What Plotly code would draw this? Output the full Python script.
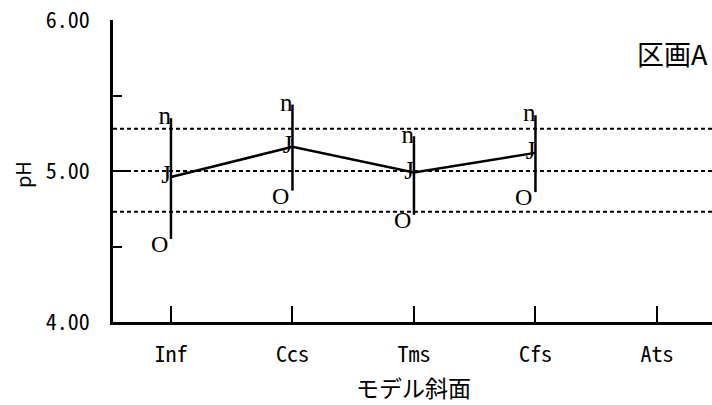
import plotly.graph_objects as go

categories = ["Inf", "Ccs", "Tms", "Cfs", "Ats"]
mean_ph = [4.96, 5.16, 4.99, 5.12]
upper_ph = [5.35, 5.44, 5.23, 5.37]
lower_ph = [4.55, 4.87, 4.71, 4.86]
ref_lines = [5.28, 5.00, 4.73]
y_ticks = [4.0, 5.0, 6.0]
y_ticklabels = ["4.00", "5.00", "6.00"]
marker_top, marker_mean, marker_bottom = "n", "J", "O"

xs = list(range(len(mean_ph)))
err_plus = [u - m for u, m in zip(upper_ph, mean_ph)]
err_minus = [m - l for m, l in zip(mean_ph, lower_ph)]

mono = "Noto Sans Mono CJK JP, DejaVu Sans Mono, monospace"
cjk = "Noto Sans CJK JP, sans-serif"
serif = "Liberation Serif, Times New Roman, serif"

fig = go.Figure()

for v in ref_lines:
    fig.add_shape(type="line", xref="paper", x0=0, x1=1, yref="y", y0=v, y1=v,
                  line=dict(color="black", width=2, dash="4px,3px"), layer="below")

fig.add_trace(go.Scatter(
    x=xs, y=mean_ph, mode="lines",
    line=dict(color="black", width=2.5),
    error_y=dict(type="data", symmetric=False, array=err_plus, arrayminus=err_minus,
                 color="black", thickness=2.5, width=0),
    hoverinfo="skip", showlegend=False,
))

for vals, ch in [(upper_ph, marker_top), (mean_ph, marker_mean)]:
    fig.add_trace(go.Scatter(
        x=xs, y=vals, mode="text", text=[ch] * len(vals),
        textposition="middle left",
        textfont=dict(family=serif, size=25, color="black"),
        hoverinfo="skip", showlegend=False,
    ))

for x, v in zip(xs, lower_ph):
    fig.add_annotation(text=marker_bottom, x=x, y=v, xref="x", yref="y",
                       xanchor="right", yanchor="middle", xshift=-1, yshift=-5,
                       showarrow=False, font=dict(family=serif, size=24, color="black"))

fig.add_annotation(text="区画A", xref="paper", yref="paper", x=0.997, y=0.89,
                   xanchor="right", yanchor="middle", showarrow=False,
                   font=dict(family=cjk, size=27, color="black"))
fig.add_annotation(text="モデル斜面", xref="paper", yref="paper", x=0.501, y=-0.215,
                   xanchor="center", yanchor="middle", showarrow=False,
                   font=dict(family=cjk, size=23, color="black"))
fig.add_annotation(text="pH", xref="paper", yref="paper", x=-0.150, y=0.487,
                   xanchor="center", yanchor="middle", showarrow=False, textangle=-90,
                   font=dict(family=cjk, size=20, color="black"))

fig.update_layout(
    width=712, height=405,
    margin=dict(l=113, r=0, t=20, b=83, autoexpand=False),
    paper_bgcolor="white", plot_bgcolor="white",
    xaxis=dict(
        range=[-0.477, 4.453], tickmode="array",
        tickvals=list(range(len(categories))), ticktext=categories,
        ticks="inside", ticklen=16, tickwidth=2, tickcolor="black",
        showline=True, linecolor="black", linewidth=2.5, showgrid=False, zeroline=False,
        tickfont=dict(family=mono, size=22, color="black"),
        ticklabelstandoff=11, automargin=False,
    ),
    yaxis=dict(
        range=[4, 6], tickmode="array", tickvals=y_ticks, ticktext=y_ticklabels,
        ticks="inside", ticklen=16, tickwidth=2, tickcolor="black",
        minor=dict(ticks="inside", ticklen=9, tickwidth=2, tickcolor="black", dtick=0.5, showgrid=False),
        showline=True, linecolor="black", linewidth=2.5, showgrid=False, zeroline=False,
        tickfont=dict(family=mono, size=22, color="black"),
        ticklabelstandoff=16, automargin=False,
    ),
)

fig.write_html("out.html", config={"displayModeBar": False},
               post_script="document.body.style.margin='0';document.body.style.overflow='hidden';")
